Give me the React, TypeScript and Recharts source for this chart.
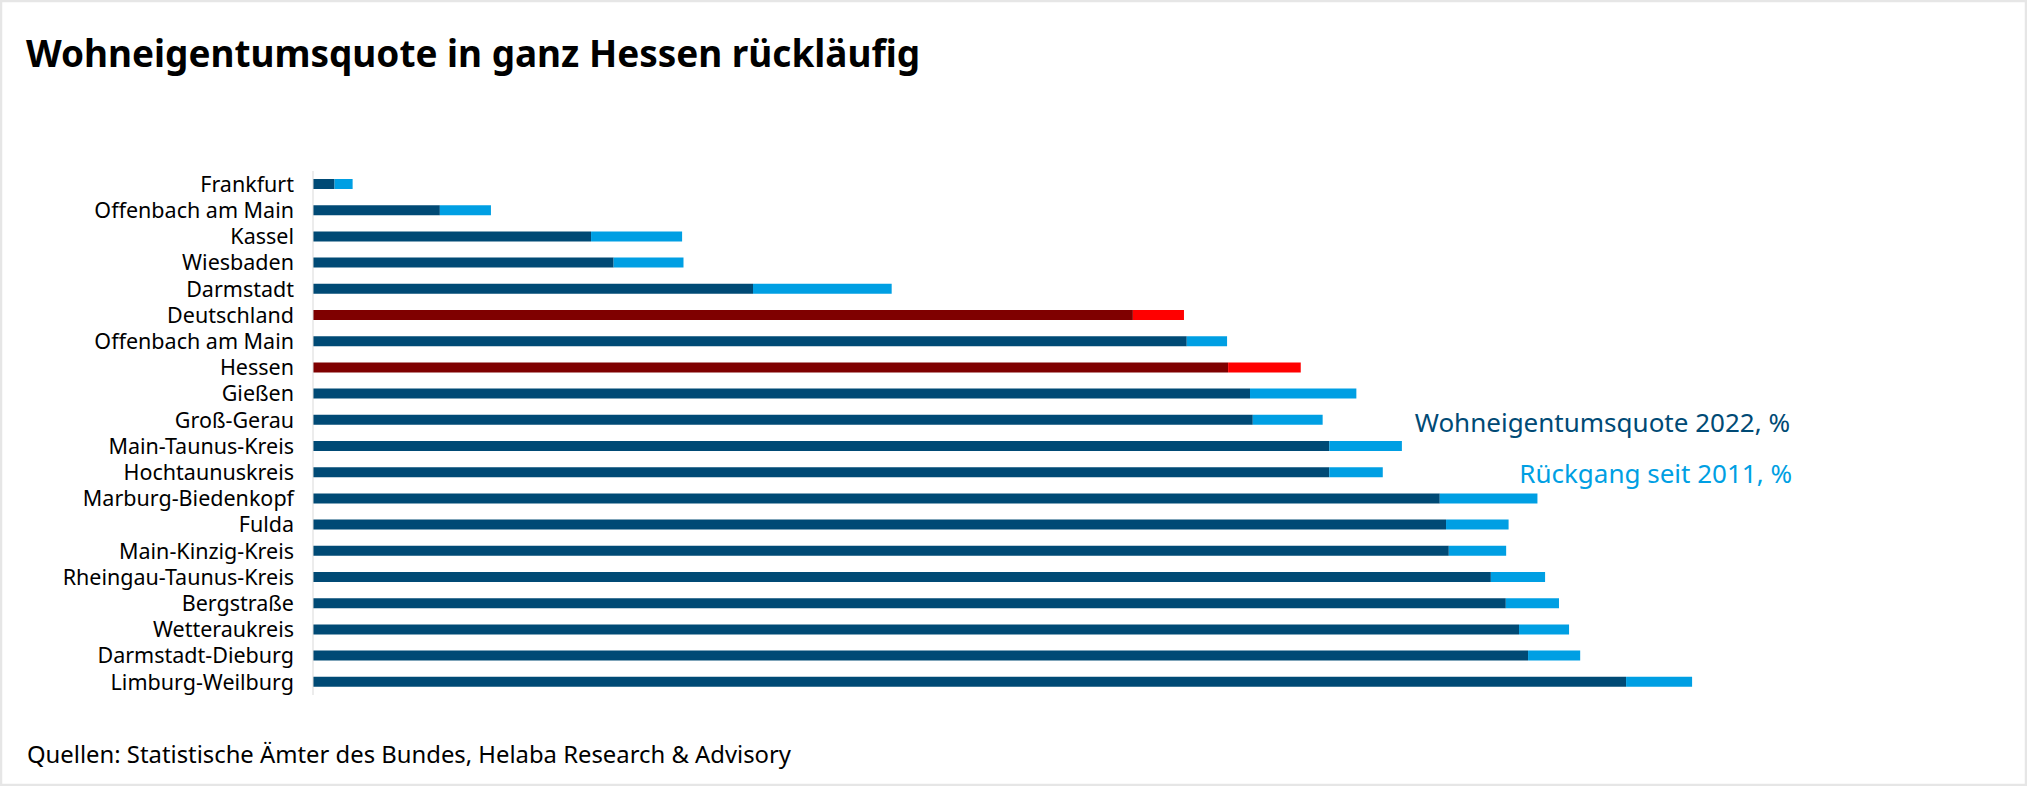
import { BarChart, Bar, XAxis, YAxis, Cell } from 'recharts';

// Regionen, von oben nach unten wie im Original
const regions = [
  'Frankfurt',
  'Offenbach am Main',
  'Kassel',
  'Wiesbaden',
  'Darmstadt',
  'Deutschland',
  'Offenbach am Main',
  'Hessen',
  'Gießen',
  'Groß-Gerau',
  'Main-Taunus-Kreis',
  'Hochtaunuskreis',
  'Marburg-Biedenkopf',
  'Fulda',
  'Main-Kinzig-Kreis',
  'Rheingau-Taunus-Kreis',
  'Bergstraße',
  'Wetteraukreis',
  'Darmstadt-Dieburg',
  'Limburg-Weilburg',
];

// Wohneigentumsquote 2022, %
const quote2022 = [
  20.62, 23.65, 28.0, 28.65, 32.66, 43.59, 45.14, 46.33, 46.96, 47.04,
  49.24, 49.24, 52.42, 52.6, 52.68, 53.89, 54.32, 54.7, 54.96, 57.78,
];

// Rückgang seit 2011, %-Punkte
const decline = [
  0.52, 1.47, 2.62, 2.01, 3.99, 1.47, 1.16, 2.09, 3.06, 2.01,
  2.09, 1.54, 2.81, 1.8, 1.65, 1.56, 1.53, 1.44, 1.5, 1.9,
];

// Vergleichswerte in Rot
const benchmarks = ['Deutschland', 'Hessen'];

const xDomain: [number, number] = [20, 65];

const data = regions.map((name, i) => ({
  name,
  quote: quote2022[i],
  decline: decline[i],
  benchmark: benchmarks.includes(name),
}));

const DARK_BLUE = '#004a75';
const LIGHT_BLUE = '#009fe3';
const DARK_RED = '#7f0000';
const RED = '#ff0000';

export default function App() {
  return (
    <div style={{ position: 'relative', width: 2027, height: 786, background: '#fff' }}>
      <style>{'body{margin:0}'}</style>
      <BarChart
        width={2027}
        height={786}
        data={data}
        layout="vertical"
        margin={{ top: 171, right: 150, bottom: 91, left: 13 }}
        style={{ position: 'absolute', top: 0, left: 0 }}
      >
        <XAxis type="number" domain={xDomain} allowDataOverflow hide />
        <YAxis
          type="category"
          dataKey="name"
          width={300}
          interval={0}
          axisLine={{ stroke: '#d9d9d9', strokeWidth: 1 }}
          tickLine={false}
          tickSize={0}
          tickMargin={19}
          tick={{ fontSize: 21.5, fill: '#000', fontFamily: 'Noto Sans' }}
        />
        <Bar dataKey="quote" stackId="a" barSize={10} isAnimationActive={false}>
          {data.map((d, i) => (
            <Cell key={i} fill={d.benchmark ? DARK_RED : DARK_BLUE} />
          ))}
        </Bar>
        <Bar dataKey="decline" stackId="a" barSize={10} isAnimationActive={false}>
          {data.map((d, i) => (
            <Cell key={i} fill={d.benchmark ? RED : LIGHT_BLUE} />
          ))}
        </Bar>
      </BarChart>

      <svg
        width={2027}
        height={786}
        style={{ position: 'absolute', top: 0, left: 0, pointerEvents: 'none' }}
      >
        <text
          x={26}
          y={67}
          fontSize={38}
          fontWeight={700}
          fontFamily="Noto Sans"
          fill="#000"
          textLength={894}
          lengthAdjust="spacingAndGlyphs"
        >
          Wohneigentumsquote in ganz Hessen rückläufig
        </text>
        <text x={1790} y={432} fontSize={26} fontFamily="Noto Sans" fill={DARK_BLUE} textAnchor="end">
          Wohneigentumsquote 2022, %
        </text>
        <text x={1792} y={483} fontSize={26} fontFamily="Noto Sans" fill={LIGHT_BLUE} textAnchor="end">
          Rückgang seit 2011, %
        </text>
        <text
          x={27}
          y={763}
          fontSize={24}
          fontFamily="Noto Sans"
          fill="#000"
          textLength={764}
          lengthAdjust="spacingAndGlyphs"
        >
          Quellen: Statistische Ämter des Bundes, Helaba Research &amp; Advisory
        </text>
        <rect x={1} y={1} width={2025} height={784} fill="none" stroke="#e6e6e6" strokeWidth={2.5} />
      </svg>
    </div>
  );
}
